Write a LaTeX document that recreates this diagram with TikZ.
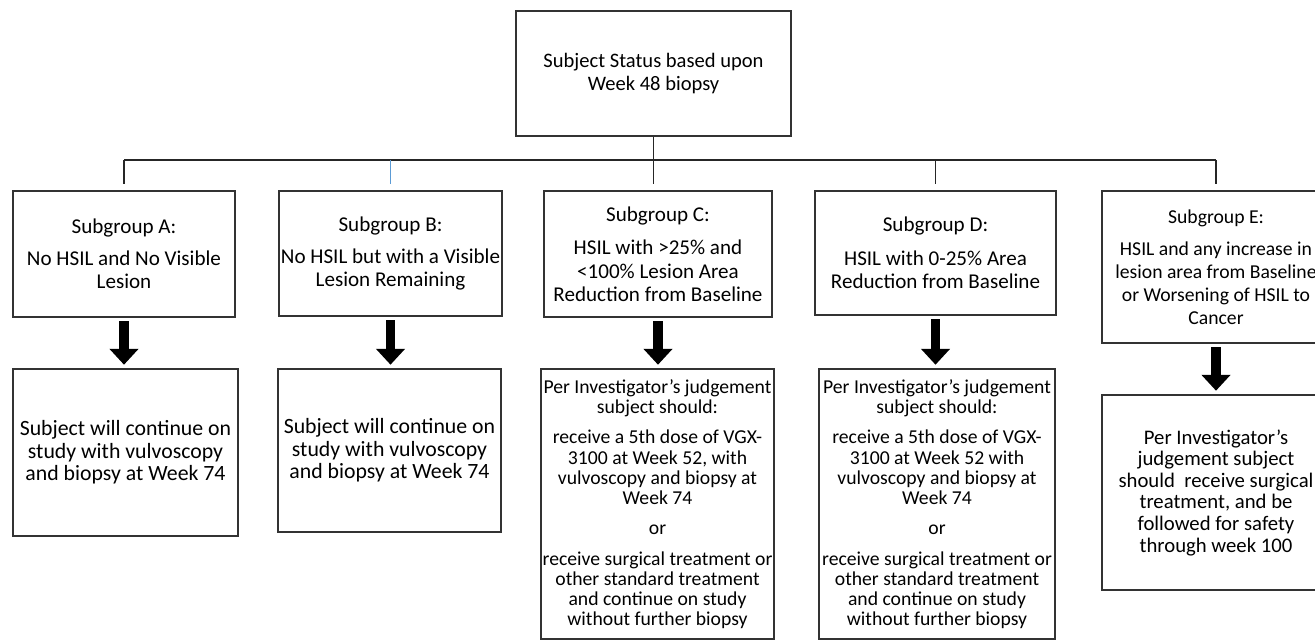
\documentclass[tikz,border=0pt]{standalone}
\usepackage{fontspec}
\setmainfont{Carlito}
\usetikzlibrary{arrows.meta, positioning}
\definecolor{linkblue}{RGB}{91,155,213}
\tikzset{
    sgbox/.style={draw=black!80, align=center, line width=0.9pt, inner sep=1pt, font=\fontsize{12}{13.2}\selectfont},
    outbox/.style={draw=black!80, align=center, line width=0.9pt, inner sep=1pt, font=\fontsize{12.4}{12.9}\selectfont},
    longbox/.style={outbox, font=\fontsize{11.2}{11.4}\selectfont},
    bigarrow/.style={-{Triangle[length=9pt, width=16pt]}, line width=5.5pt, black},
    linkline/.style={draw=black!85, line width=0.9pt}
}

\begin{document}
\begin{tikzpicture}[x=0.02cm, y=-0.02cm]
  \path[use as bounding box, clip] (0,0) rectangle (1315,641);
  % status at week 48
  \node[sgbox, font=\fontsize{11.7}{12.6}\selectfont, minimum width=5.5cm, minimum height=2.5cm] (status) at (653.5,73.5)
    {Subject Status based upon\\Week 48 biopsy};
  % subgroups
  \node[sgbox, minimum width=4.44cm, minimum height=2.52cm] (sga) at (124,254)
    {Subgroup A:\\[5pt] No HSIL and No Visible\\Lesion};
  \node[sgbox, minimum width=4.42cm, minimum height=2.5cm] (sgb) at (390.5,253.5)
    {Subgroup B:\\[5pt] No HSIL but with a Visible\\Lesion Remaining};
  \node[sgbox, minimum width=4.56cm, minimum height=2.52cm] (sgc) at (658,254)
    {Subgroup C:\\[6pt] HSIL with >25\% and\\<100\% Lesion Area\\Reduction from Baseline};
  \node[sgbox, minimum width=4.82cm, minimum height=2.48cm] (sgd) at (935.5,253)
    {Subgroup D:\\[6pt] HSIL with 0-25\% Area\\Reduction from Baseline};
  \node[sgbox, font=\fontsize{11.2}{13.1}\selectfont, minimum width=4.56cm, minimum height=3.04cm] (sge) at (1216,267)
    {Subgroup E:\\[5pt] HSIL and any increase in\\lesion area from Baseline\\or Worsening of HSIL to\\Cancer};
  % outcomes
  \node[outbox, minimum width=4.5cm, minimum height=3.34cm] (outa) at (125.5,452.5)
    {Subject will continue on\\study with vulvoscopy\\and biopsy at Week 74};
  \node[outbox, minimum width=4.46cm, minimum height=3.26cm] (outb) at (389.5,450.5)
    {Subject will continue on\\study with vulvoscopy\\and biopsy at Week 74};
  \node[longbox, minimum width=4.62cm, minimum height=5.4cm] (outc) at (657.5,504)
    {Per Investigator’s judgement\\subject should:\\[6pt] receive a 5th dose of VGX-\\3100 at Week 52, with\\vulvoscopy and biopsy at\\Week 74\\[6pt] or\\[6pt] receive surgical treatment or\\other standard treatment\\and continue on study\\without further biopsy};
  \node[longbox, minimum width=4.72cm, minimum height=5.4cm] (outd) at (937,504)
    {Per Investigator’s judgement\\subject should:\\[6pt] receive a 5th dose of VGX-\\3100 at Week 52 with\\vulvoscopy and biopsy at\\Week 74\\[6pt] or\\[6pt] receive surgical treatment or\\other standard treatment\\and continue on study\\without further biopsy};
  \node[outbox, font=\fontsize{11.8}{12.3}\selectfont, minimum width=4.56cm, minimum height=3.9cm] (oute) at (1216,492.5)
    {Per Investigator’s\\judgement subject\\should\ \ receive surgical\\treatment, and be\\followed for safety\\through week 100};
  % tree lines
  \coordinate (bus) at (653.5,160);
  \draw[linkline] (status.south) -- (bus);
  \draw[linkline] (sga.north |- bus) -- (sge.north |- bus);
  \draw[linkline] (sga.north |- bus) -- ([yshift=3.4pt]sga.north);
  \draw[linkline, draw=linkblue, line width=0.6pt] (sgb.north |- bus) -- ([yshift=3.4pt]sgb.north);
  \coordinate (dropc) at (bus |- sgc.north);
  \draw[linkline] (bus) -- ([yshift=3.4pt]dropc);
  \draw[linkline] (sgd.north |- bus) -- ([yshift=3.4pt]sgd.north);
  \draw[linkline] (sge.north |- bus) -- ([yshift=3.4pt]sge.north);
  % block arrows
  \foreach \from/\to in {sga/outa, sgb/outb, sgc/outc, sgd/outd, sge/oute}
    \draw[bigarrow] ([yshift=-2pt]\from.south) -- ([yshift=2pt]\from.south |- \to.north);
\end{tikzpicture}
\end{document}
